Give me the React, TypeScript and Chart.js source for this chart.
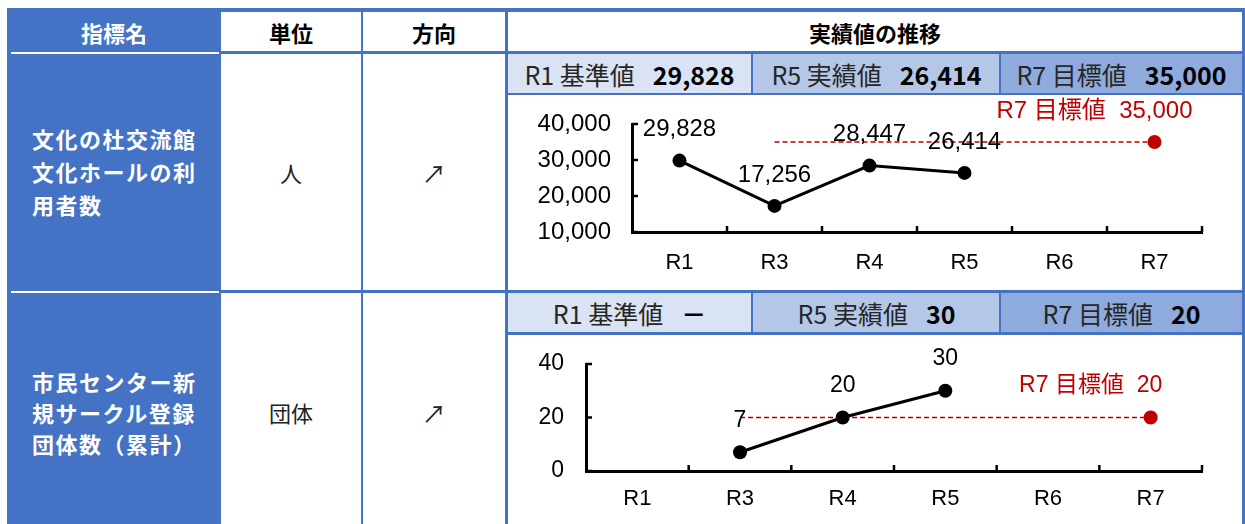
import React, { useEffect, useRef } from "react";
import { Chart, registerables } from "chart.js";

Chart.register(...registerables);

// ---------- data ----------
const categories = ["R1", "R3", "R4", "R5", "R6", "R7"];

const visitorActuals: (number | null)[] = [29828, 17256, 28447, 26414, null, null];
const visitorTarget: (number | null)[] = [null, 35000, 35000, 35000, 35000, 35000];
const visitorTicks = [10000, 20000, 30000, 40000];

const circleActuals: (number | null)[] = [null, 7, 20, 30, null, null];
const circleTarget: (number | null)[] = [null, 20, 20, 20, 20, 20];
const circleTicks = [0, 20, 40];

const headerTitles = ["指標名", "単位", "方向", "実績値の推移"];
const summaryLabels = ["R1 基準値", "R5 実績値", "R7 目標値"];
const visitorSummary = ["29,828", "26,414", "35,000"];
const circleSummary = ["－", "30", "20"];
const indicatorNames = [
  "文化の杜交流館\n文化ホールの利\n用者数",
  "市民センター新\n規サークル登録\n団体数（累計）",
];
const units = ["人", "団体"];
const directions = ["↗", "↗"];
const targetLabel = "R7 目標値";

// ---------- styles ----------
const BLUE = "#4472C4";
const RED = "#C00000";
const BAND = ["#DAE3F3", "#B4C7E7", "#8FAADC"];
const JP = "'Noto Sans CJK JP', 'Noto Sans', sans-serif";
const LAT = "'Liberation Sans', 'Noto Sans CJK JP', sans-serif";

const fmt = (v: number) => new Intl.NumberFormat("en-US").format(v);

function makePlugin(fontSize: number, labelOffset: number) {
  return {
    id: "valueLabels",
    afterDatasetsDraw(chart: any) {
      const ctx = chart.ctx;
      ctx.save();
      ctx.textAlign = "center";
      ctx.textBaseline = "middle";
      ctx.font = `${fontSize}px ${LAT}`;
      ctx.fillStyle = "#000";
      const m0 = chart.getDatasetMeta(0);
      const d0 = chart.data.datasets[0].data;
      m0.data.forEach((pt: any, i: number) => {
        const v = d0[i];
        if (v == null) return;
        ctx.fillText(fmt(v), pt.x, pt.y - labelOffset);
      });
      const m1 = chart.getDatasetMeta(1);
      const d1 = chart.data.datasets[1].data;
      const last = d1.length - 1;
      const p = m1.data[last];
      if (p && d1[last] != null) {
        ctx.fillStyle = RED;
        ctx.fillText(`${targetLabel}  ${fmt(d1[last])}`, p.x - 60, p.y - labelOffset);
      }
      ctx.restore();
    },
    afterDraw(chart: any) {
      const ctx = chart.ctx;
      const xs = chart.scales.x;
      const ys = chart.scales.y;
      const area = chart.chartArea;
      ctx.save();
      ctx.strokeStyle = "#000";
      ctx.lineWidth = 2.5;
      ctx.beginPath();
      ys.ticks.forEach((_t: any, i: number) => {
        const y = ys.getPixelForTick(i);
        ctx.moveTo(area.left, y);
        ctx.lineTo(area.left + 6, y);
      });
      const n = xs.ticks.length;
      const step = (xs.right - xs.left) / n;
      for (let k = 1; k <= n; k++) {
        const x = xs.getPixelForTick(k - 1) + step / 2;
        ctx.moveTo(x, area.bottom);
        ctx.lineTo(x, area.bottom - 6);
      }
      ctx.stroke();
      ctx.restore();
    },
  };
}

type ChartProps = {
  left: number;
  top: number;
  width: number;
  height: number;
  actual: (number | null)[];
  target: (number | null)[];
  ticks: number[];
  yWidth: number;
  xHeight: number;
  fontSize: number;
  xFontSize: number;
  labelOffset: number;
  yPad: number;
  xPad: number;
};

function TrendChart(p: ChartProps) {
  const ref = useRef<HTMLCanvasElement>(null);
  useEffect(() => {
    if (!ref.current) return;
    const lastIdx = p.target.length - 1;
    const chart = new Chart(ref.current, {
      type: "line",
      data: {
        labels: categories,
        datasets: [
          {
            data: p.actual,
            borderColor: "#000",
            backgroundColor: "#000",
            borderWidth: 3,
            pointRadius: 7,
            pointHoverRadius: 7,
            pointBackgroundColor: "#000",
            pointBorderWidth: 0,
            tension: 0,
          },
          {
            data: p.target,
            borderColor: RED,
            backgroundColor: RED,
            borderWidth: 1.5,
            borderDash: [5, 3],
            pointRadius: p.target.map((_v, i) => (i === lastIdx ? 7 : 0)),
            pointHoverRadius: p.target.map((_v, i) => (i === lastIdx ? 7 : 0)),
            pointBackgroundColor: RED,
            pointBorderWidth: 0,
            tension: 0,
          },
        ],
      } as any,
      options: {
        responsive: false,
        animation: false,
        events: [],
        layout: { padding: { top: 28, right: 40, left: 0, bottom: 0 } },
        plugins: { legend: { display: false }, tooltip: { enabled: false } },
        scales: {
          x: {
            offset: true,
            grid: { display: false, offset: true },
            border: { display: true, color: "#000", width: 3 },
            ticks: { color: "#000", font: { size: p.xFontSize, family: LAT }, padding: p.xPad, maxRotation: 0 },
            afterFit: (s: any) => {
              s.height = p.xHeight;
              s.paddingLeft = 0;
              s.paddingRight = 0;
            },
          },
          y: {
            min: p.ticks[0],
            max: p.ticks[p.ticks.length - 1],
            grid: { display: false, drawTicks: false },
            border: { display: true, color: "#000", width: 3 },
            ticks: {
              stepSize: p.ticks[1] - p.ticks[0],
              color: "#000",
              font: { size: p.fontSize, family: LAT },
              padding: p.yPad,
              callback: (v: any) => fmt(Number(v)),
            },
            afterFit: (s: any) => {
              s.width = p.yWidth;
              s.paddingTop = 0;
              s.paddingBottom = 0;
            },
          },
        },
      } as any,
      plugins: [makePlugin(p.fontSize, p.labelOffset)],
    });
    return () => chart.destroy();
  }, []);
  return (
    <canvas
      ref={ref}
      width={p.width}
      height={p.height}
      style={{ position: "absolute", left: p.left, top: p.top, width: p.width, height: p.height }}
    />
  );
}

const Box = ({ l, t, w, h, c }: { l: number; t: number; w: number; h: number; c: string }) => (
  <div style={{ position: "absolute", left: l, top: t, width: w, height: h, background: c }} />
);

const Cell = ({
  l, t, w, h, children, style,
}: { l: number; t: number; w: number; h: number; children: any; style?: any }) => (
  <div
    style={{
      position: "absolute", left: l, top: t, width: w, height: h,
      display: "flex", alignItems: "center", justifyContent: "center",
      whiteSpace: "pre", ...style,
    }}
  >
    {children}
  </div>
);

function Summary({ t, values }: { t: number; values: string[] }) {
  const xs = [[508, 243], [753, 247], [1001, 241]];
  return (
    <>
      {xs.map(([l, w], i) => (
        <Cell key={i} l={l} t={t} w={w} h={39} style={{ background: BAND[i], fontFamily: JP, fontSize: 25, color: "#262626" }}>
          <span>{summaryLabels[i]}</span>
          <span style={{ fontWeight: 700, marginLeft: 18, color: "#000" }}>{values[i]}</span>
        </Cell>
      ))}
      <Box l={751} t={t} w={2} h={39} c={BLUE} />
      <Box l={999} t={t} w={2} h={39} c={BLUE} />
    </>
  );
}

export default function App() {
  return (
    <div style={{ position: "absolute", left: 0, top: 0, width: 1245, height: 524, overflow: "hidden", background: "#fff" }}>
      {/* left column fill */}
      <Box l={7} t={8} w={214} h={530} c={BLUE} />
      {/* outer top / right */}
      <Box l={7} t={8} w={1238} h={4} c={BLUE} />
      <Box l={1242} t={8} w={3} h={530} c={BLUE} />
      {/* white separators in left column */}
      <Box l={11} t={52} w={208} h={2} c="#fff" />
      <Box l={11} t={291} w={208} h={2} c="#fff" />
      {/* vertical borders */}
      <Box l={361} t={8} w={2} h={530} c={BLUE} />
      <Box l={505} t={8} w={3} h={530} c={BLUE} />
      {/* horizontal borders */}
      <Box l={221} t={51} w={1024} h={3} c={BLUE} />
      <Box l={508} t={93} w={737} h={2} c={BLUE} />
      <Box l={221} t={290} w={1024} h={3} c={BLUE} />
      <Box l={508} t={332} w={737} h={3} c={BLUE} />

      {/* header */}
      <Cell l={7} t={12} w={214} h={39} style={{ color: "#fff", fontWeight: 700, fontSize: 22, fontFamily: JP }}>{headerTitles[0]}</Cell>
      <Cell l={221} t={12} w={140} h={39} style={{ color: "#000", fontWeight: 700, fontSize: 22, fontFamily: JP }}>{headerTitles[1]}</Cell>
      <Cell l={363} t={12} w={142} h={39} style={{ color: "#000", fontWeight: 700, fontSize: 22, fontFamily: JP }}>{headerTitles[2]}</Cell>
      <Cell l={508} t={12} w={734} h={39} style={{ color: "#000", fontWeight: 700, fontSize: 22, fontFamily: JP }}>{headerTitles[3]}</Cell>

      {/* row 1 */}
      <div style={{ position: "absolute", left: 32, top: 122, color: "#fff", fontWeight: 700, fontSize: 22, lineHeight: "33px", letterSpacing: 1.5, fontFamily: JP, whiteSpace: "pre" }}>
        {indicatorNames[0]}
      </div>
      <Cell l={221} t={54} w={140} h={236} style={{ fontSize: 22, fontFamily: JP, color: "#222" }}>{units[0]}</Cell>
      <Cell l={363} t={54} w={142} h={236} style={{ fontSize: 24, fontFamily: JP, color: "#222" }}>{directions[0]}</Cell>
      <Summary t={54} values={visitorSummary} />
      <TrendChart
        left={508} top={96} width={734} height={193}
        actual={visitorActuals} target={visitorTarget} ticks={visitorTicks}
        yWidth={124} xHeight={57} fontSize={24} xFontSize={22} labelOffset={31} yPad={21} xPad={10}
      />

      {/* row 2 */}
      <div style={{ position: "absolute", left: 32, top: 366, color: "#fff", fontWeight: 700, fontSize: 22, lineHeight: "31px", letterSpacing: 1.5, fontFamily: JP, whiteSpace: "pre" }}>
        {indicatorNames[1]}
      </div>
      <Cell l={221} t={293} w={140} h={238} style={{ fontSize: 22, fontFamily: JP, color: "#222" }}>{units[1]}</Cell>
      <Cell l={363} t={293} w={142} h={238} style={{ fontSize: 24, fontFamily: JP, color: "#222" }}>{directions[1]}</Cell>
      <Summary t={293} values={circleSummary} />
      <TrendChart
        left={508} top={336} width={734} height={188}
        actual={circleActuals} target={circleTarget} ticks={circleTicks}
        yWidth={78} xHeight={53} fontSize={23} xFontSize={22} labelOffset={32} yPad={22} xPad={7}
      />
    </div>
  );
}
